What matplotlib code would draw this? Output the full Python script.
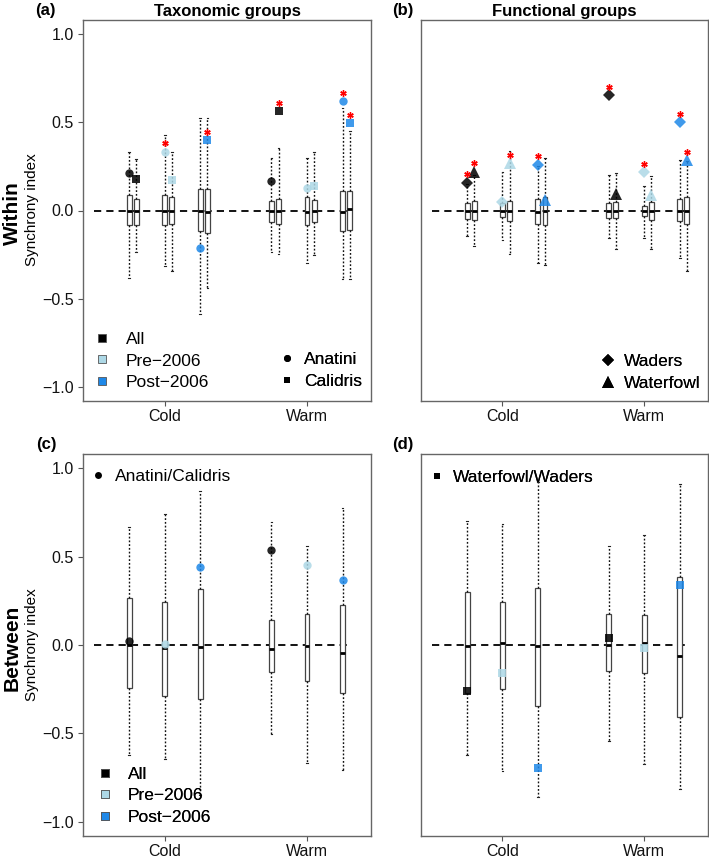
import matplotlib
matplotlib.use("Agg")
import matplotlib.pyplot as plt
from matplotlib.lines import Line2D

plt.rcParams['font.family'] = ['Liberation Sans', 'DejaVu Sans']

# ---------------- data ----------------
groups = ["Cold All", "Cold Pre", "Cold Post", "Warm All", "Warm Pre", "Warm Post"]
positions = [1, 2, 3, 5, 6, 7]
offset2 = 0.2
xtick_pos = [2, 6]
xtick_labels = ["Cold", "Warm"]
period_colors = ["#000000", "#ADD8E6", "#1E88E8",
                 "#000000", "#ADD8E6", "#1E88E8"]
period_labels = ["All", "Pre\u22122006", "Post\u22122006"]
period_legend_colors = ["#000000", "#ADD8E6", "#1E88E8"]

# panel (a) taxonomic groups: Anatini / Calidris
a_anatini_med = [0.0, 0.0, 0.0, 0.0, -0.006, -0.006]
a_anatini_q1 = [-0.081, -0.085, -0.115, -0.064, -0.083, -0.119]
a_anatini_q3 = [0.089, 0.09, 0.12, 0.056, 0.077, 0.109]
a_anatini_lo = [-0.38, -0.315, -0.584, -0.237, -0.30, -0.39]
a_anatini_hi = [0.33, 0.43, 0.527, 0.30, 0.30, 0.58]
a_anatini_obs = [0.21, 0.333, -0.215, 0.168, 0.128, 0.62]
a_anatini_sig = [False, True, False, False, False, True]

a_calidris_med = [-0.005, 0.0, -0.011, 0.0, 0.0, 0.008]
a_calidris_q1 = [-0.08, -0.075, -0.13, -0.074, -0.066, -0.11]
a_calidris_q3 = [0.064, 0.075, 0.12, 0.066, 0.062, 0.109]
a_calidris_lo = [-0.235, -0.343, -0.437, -0.245, -0.254, -0.39]
a_calidris_hi = [0.29, 0.33, 0.527, 0.354, 0.333, 0.45]
a_calidris_obs = [0.18, 0.175, 0.40, 0.565, 0.137, 0.495]
a_calidris_sig = [False, False, True, True, False, True]

# panel (b) functional groups: Waders / Waterfowl
b_waders_med = [0.0, 0.0, -0.008, 0.0, 0.0, 0.0]
b_waders_q1 = [-0.047, -0.038, -0.077, -0.045, -0.03, -0.058]
b_waders_q3 = [0.04, 0.045, 0.064, 0.041, 0.023, 0.064]
b_waders_lo = [-0.147, -0.166, -0.296, -0.156, -0.156, -0.27]
b_waders_hi = [0.15, 0.22, 0.25, 0.203, 0.14, 0.286]
b_waders_obs = [0.158, 0.047, 0.26, 0.655, 0.216, 0.5]
b_waders_sig = [True, False, True, True, True, True]

b_waterfowl_med = [0.0, 0.0, 0.0, 0.0, 0.0, 0.0]
b_waterfowl_q1 = [-0.055, -0.062, -0.081, -0.043, -0.055, -0.075]
b_waterfowl_q3 = [0.055, 0.055, 0.077, 0.047, 0.049, 0.079]
b_waterfowl_lo = [-0.2, -0.248, -0.31, -0.216, -0.216, -0.343]
b_waterfowl_hi = [0.2, 0.337, 0.30, 0.213, 0.198, 0.28]
b_waterfowl_obs = [0.22, 0.27, 0.06, 0.094, 0.089, 0.286]
b_waterfowl_sig = [True, True, False, False, False, True]

# panel (c) between Anatini/Calidris
c_med = [0.0, -0.017, -0.011, -0.02, -0.006, -0.045]
c_q1 = [-0.241, -0.287, -0.304, -0.155, -0.202, -0.273]
c_q3 = [0.264, 0.241, 0.317, 0.14, 0.174, 0.225]
c_lo = [-0.623, -0.645, -0.85, -0.504, -0.666, -0.707]
c_hi = [0.67, 0.741, 0.873, 0.698, 0.559, 0.772]
c_obs = [0.023, 0.006, 0.441, 0.54, 0.453, 0.37]

# panel (d) between Waterfowl/Waders
d_med = [-0.006, 0.009, -0.006, 0.0, 0.011, -0.064]
d_q1 = [-0.27, -0.247, -0.343, -0.145, -0.16, -0.406]
d_q3 = [0.298, 0.241, 0.324, 0.177, 0.168, 0.385]
d_lo = [-0.624, -0.713, -0.858, -0.545, -0.672, -0.815]
d_hi = [0.703, 0.685, 0.924, 0.56, 0.622, 0.911]
d_obs = [-0.26, -0.158, -0.698, 0.038, -0.015, 0.341]

# ---------------- figure ----------------
W, H = 709, 861
fig = plt.figure(figsize=(W / 100, H / 100), dpi=100)


def px_axes(x0, y0, x1, y1):
    return fig.add_axes([x0 / W, 1 - y1 / H, (x1 - x0) / W, (y1 - y0) / H])


ax_a = px_axes(83, 20, 371, 401)
ax_b = px_axes(421, 20, 708, 401)
ax_c = px_axes(83, 454, 371, 836)
ax_d = px_axes(421, 454, 708, 836)

STAR_OFF = 0.047
ALPHA = 0.85


def draw_boxes(ax, pos, med, q1, q3, lo, hi):
    stats = [dict(med=m, q1=a, q3=b, whislo=l, whishi=h)
             for m, a, b, l, h in zip(med, q1, q3, lo, hi)]
    ax.bxp(stats, positions=pos, widths=0.14, showfliers=False,
           patch_artist=True, manage_ticks=False,
           boxprops=dict(facecolor="white", edgecolor="#444444", linewidth=0.9),
           medianprops=dict(color="black", linewidth=2.0, solid_capstyle="butt"),
           whiskerprops=dict(color="#111111", linewidth=1.0, linestyle=(0, (1.3, 1.4))),
           capprops=dict(color="#222222", linewidth=0.8),
           capwidths=0.05)


def draw_points(ax, pos, obs, marker, size, sig=None):
    for p, v, c in zip(pos, obs, period_colors):
        ax.plot(p, v, marker=marker, color=c, markersize=size, mew=0,
                alpha=ALPHA, zorder=5, linestyle="none")
    if sig is not None:
        for p, v, s in zip(pos, obs, sig):
            if s:
                ax.plot(p, v + STAR_OFF, marker=(6, 2, 0), color="red",
                        markersize=4.6, mew=1.0, zorder=6, linestyle="none")


def style_axes(ax):
    ax.set_xlim(-0.3, 7.8)
    ax.set_ylim(-1.08, 1.08)
    ax.axhline(0, xmin=0.3 / 8.1, xmax=7.8 / 8.1 - 0.3 / 8.1, color="black",
               linewidth=1.3, linestyle=(0, (4, 2.8)), zorder=1)
    ax.set_xticks(xtick_pos)
    ax.set_xticklabels(xtick_labels)
    ax.set_yticks([-1.0, -0.5, 0.0, 0.5, 1.0])
    ax.set_yticklabels(["\u22121.0", "\u22120.5", "0.0", "0.5", "1.0"])
    ax.tick_params(axis="both", labelsize=11.5, length=3.6, width=0.8,
                   color="#555555", labelcolor="#111111")
    ax.tick_params(axis="x", pad=2)
    ax.tick_params(axis="y", pad=3)
    for s in ax.spines.values():
        s.set_color("#666666")
        s.set_linewidth(1.0)


for ax in (ax_a, ax_b, ax_c, ax_d):
    style_axes(ax)

ax_b.tick_params(axis="y", labelleft=False, left=False)
ax_d.tick_params(axis="y", labelleft=False, left=False)

pos2 = [p + offset2 for p in positions]

# (a)
draw_boxes(ax_a, positions, a_anatini_med, a_anatini_q1, a_anatini_q3, a_anatini_lo, a_anatini_hi)
draw_boxes(ax_a, pos2, a_calidris_med, a_calidris_q1, a_calidris_q3, a_calidris_lo, a_calidris_hi)
draw_points(ax_a, positions, a_anatini_obs, "o", 6.0, a_anatini_sig)
draw_points(ax_a, pos2, a_calidris_obs, "s", 5.4, a_calidris_sig)

# (b)
draw_boxes(ax_b, positions, b_waders_med, b_waders_q1, b_waders_q3, b_waders_lo, b_waders_hi)
draw_boxes(ax_b, pos2, b_waterfowl_med, b_waterfowl_q1, b_waterfowl_q3, b_waterfowl_lo, b_waterfowl_hi)
draw_points(ax_b, positions, b_waders_obs, "D", 6.4, b_waders_sig)
draw_points(ax_b, pos2, b_waterfowl_obs, "^", 8.0, b_waterfowl_sig)

# (c)
draw_boxes(ax_c, positions, c_med, c_q1, c_q3, c_lo, c_hi)
draw_points(ax_c, positions, c_obs, "o", 6.0)

# (d)
draw_boxes(ax_d, positions, d_med, d_q1, d_q3, d_lo, d_hi)
draw_points(ax_d, positions, d_obs, "s", 5.4)

# ---------------- legends ----------------
LFS = 12.5


def color_handles():
    return [Line2D([], [], marker="s", linestyle="none", markersize=6.2,
                   markerfacecolor=c, markeredgecolor="#555555", mew=0.6)
            for c in period_legend_colors]


def shape_handles(markers, sizes):
    return [Line2D([], [], marker=m, linestyle="none", markersize=s,
                   color="black", mew=0) for m, s in zip(markers, sizes)]


def add_legend(ax, handles, labels, x, y, textpad):
    leg = ax.legend(handles, labels, loc="upper left", bbox_to_anchor=(x, y),
                    frameon=False, fontsize=LFS, handlelength=1.0,
                    handletextpad=textpad, labelspacing=0.38,
                    borderaxespad=0, borderpad=0)
    ax.add_artist(leg)
    return leg


add_legend(ax_a, color_handles(), period_labels, 0.036, 0.182, 0.85)
add_legend(ax_a, shape_handles(["o", "s"], [5.0, 4.6]), ["Anatini", "Calidris"],
           0.678, 0.129, 0.48)
add_legend(ax_b, shape_handles(["D", "^"], [6.0, 8.0]), ["Waders", "Waterfowl"],
           0.621, 0.123, 0.42)
add_legend(ax_c, shape_handles(["o"], [5.0]), ["Anatini/Calidris"], 0.022, 0.960, 0.48)
add_legend(ax_c, color_handles(), period_labels, 0.046, 0.182, 0.82)
add_legend(ax_d, shape_handles(["s"], [4.6]), ["Waterfowl/Waders"], 0.024, 0.958, 0.42)

# ---------------- titles / labels ----------------
ax_a.set_title("Taxonomic groups", fontsize=12, fontweight="bold", pad=3)
ax_b.set_title("Functional groups", fontsize=12, fontweight="bold", pad=3)

fig.text(35 / W, 1 - 10.5 / H, "(a)", fontsize=12, fontweight="bold", va="center", ha="left")
fig.text(392 / W, 1 - 10.5 / H, "(b)", fontsize=12, fontweight="bold", va="center", ha="left")
fig.text(36 / W, 1 - 445 / H, "(c)", fontsize=12, fontweight="bold", va="center", ha="left")
fig.text(392 / W, 1 - 445 / H, "(d)", fontsize=12, fontweight="bold", va="center", ha="left")

fig.text(12 / W, 1 - 213 / H, "Within", fontsize=15, fontweight="bold",
         rotation=90, va="center", ha="center")
fig.text(32 / W, 1 - 210 / H, "Synchrony index", fontsize=11,
         rotation=90, va="center", ha="center")
fig.text(12 / W, 1 - 648 / H, "Between", fontsize=15, fontweight="bold",
         rotation=90, va="center", ha="center")
fig.text(32 / W, 1 - 645 / H, "Synchrony index", fontsize=11,
         rotation=90, va="center", ha="center")

fig.savefig("out.png", dpi=100)
